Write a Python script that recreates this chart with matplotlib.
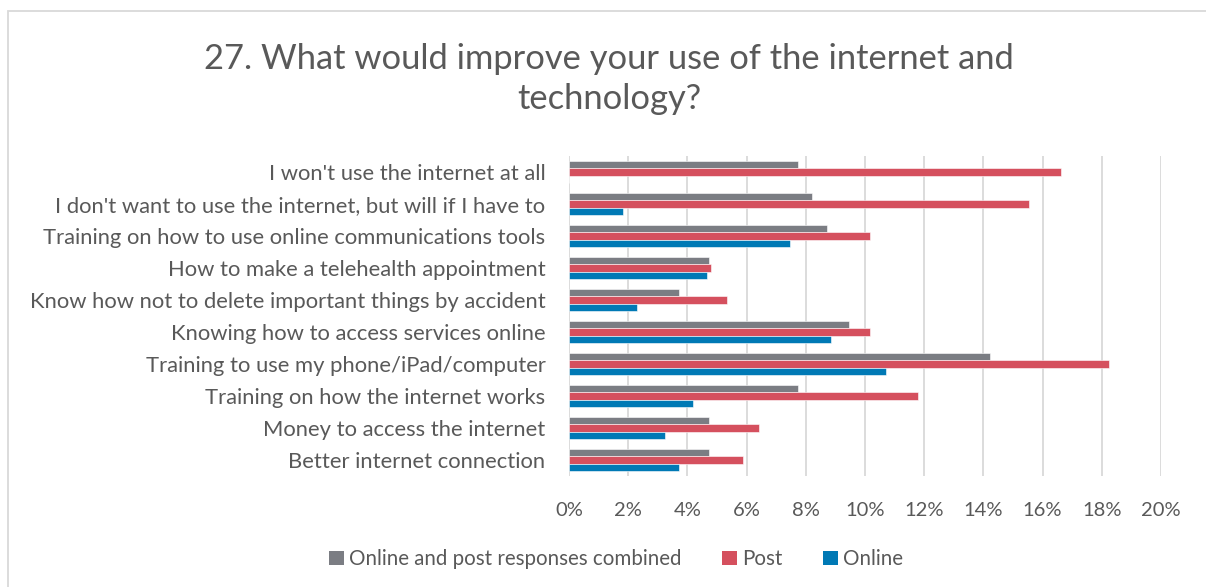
import matplotlib
matplotlib.use("Agg")
import matplotlib.pyplot as plt
import numpy as np
from matplotlib.patches import Rectangle, Patch
from matplotlib.ticker import FuncFormatter, MultipleLocator

plt.rcParams['font.family'] = ['Lato', 'DejaVu Sans']

categories = [
    "Better internet connection",
    "Money to access the internet",
    "Training on how the internet works",
    "Training to use my phone/iPad/computer",
    "Knowing how to access services online",
    "Know how not to delete important things by accident",
    "How to make a telehealth appointment",
    "Training on how to use online communications tools",
    "I don't want to use the internet, but will if I have to",
    "I won't use the internet at all",
]
combined = [4.72, 4.72, 7.72, 14.21, 9.47, 3.73, 4.72, 8.71, 8.22, 7.72]
post = [5.88, 6.43, 11.79, 18.23, 10.18, 5.35, 4.81, 10.18, 15.55, 16.63]
online = [3.72, 3.25, 4.18, 10.72, 8.85, 2.31, 4.66, 7.45, 1.83, 0.0]
series_names = ["Online and post responses combined", "Post", "Online"]
colors = ["#7b7d83", "#d5505e", "#0079b5"]

W, H = 1206, 587
fig = plt.figure(figsize=(W / 100, H / 100), dpi=100)
fig.patch.set_facecolor("white")

# chart frame
fig.patches.append(Rectangle((8 / W, -0.1), 1.2, 1 - 11 / H + 0.1,
                             transform=fig.transFigure, fill=False,
                             edgecolor="#d9d9d9", linewidth=1.3))

ax = fig.add_axes([569 / W, 1 - 476 / H, (1161 - 569) / W, (476 - 156) / H])
y = np.arange(len(categories))
h = 0.225
for vals, off, c in zip([combined, post, online], [h, 0, -h], colors):
    ax.barh(y + off, vals, height=h, color=c, edgecolor="white", linewidth=0.4, zorder=3)

ax.set_ylim(-0.5, len(categories) - 0.5)
ax.set_xlim(0, 20)
ax.xaxis.set_major_locator(MultipleLocator(2))
ax.xaxis.set_major_formatter(FuncFormatter(lambda v, p: f"{v:.0f}%"))
ax.set_yticks(y)
ax.set_yticklabels(categories)
ax.grid(axis="x", color="#d9d9d9", linewidth=1.3, zorder=0)
for s in ax.spines.values():
    s.set_visible(False)
ax.tick_params(axis="x", length=0, labelsize=14.5, labelcolor="#595959", pad=19)
ax.tick_params(axis="y", length=0, labelsize=15.8, labelcolor="#595959", pad=17)

fig.text(609 / W, 1 - 79 / H,
         "27. What would improve your use of the internet and\ntechnology?",
         ha="center", va="center", fontsize=24.8, color="#595959",
         linespacing=1.3)

handles = [Patch(facecolor=c, edgecolor="none") for c in colors]
fig.legend(handles, series_names, loc="center", bbox_to_anchor=(616 / W, 1 - 559 / H),
           ncol=3, frameon=False, fontsize=14.8, labelcolor="#595959",
           handlelength=0.7, handleheight=0.7, handletextpad=0.25, columnspacing=2.0)

fig.savefig("out.png", dpi=100, facecolor="white")
